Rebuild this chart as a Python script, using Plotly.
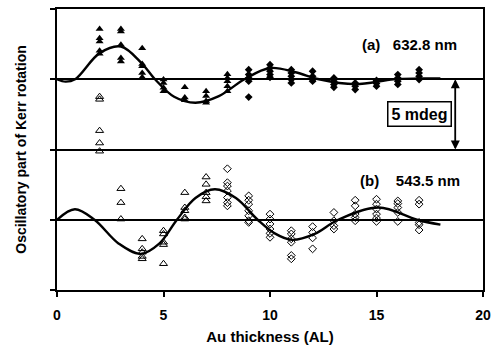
import plotly.graph_objects as go

# ---- data (mdeg, relative to each panel's zero line) ----
a_tri_x = [2]*5 + [3]*5 + [4]*5 + [5]*4 + [6]*3 + [7]*4 + [8]*5
a_tri_y = [3.58, 2.92, 2.69, 2.03, 1.82,
           3.58, 3.39, 2.45, 1.51, 1.27,
           2.21, 1.08, 0.92, 0.45, 0.14,
           -0.02, -0.26, -0.61, -0.85,
           -0.57, -1.30, -1.50,
           -0.85, -1.20, -1.55, -1.67,
           0.35, 0.09, -0.14, -0.49, -0.85]
a_dia_x = [9]*5 + [10]*5 + [11]*5 + [12]*4 + [13]*4 + [14]*3 + [15]*3 + [16]*4 + [17]*4
a_dia_y = [0.68, 0.33, 0.09, -0.14, -1.27,
           1.04, 0.80, 0.57, 0.33, 0.14,
           0.68, 0.45, 0.21, -0.02, -0.26,
           0.57, 0.21, -0.02, -0.14,
           0.09, -0.14, -0.37, -0.57,
           -0.26, -0.49, -0.73,
           -0.09, -0.30, -0.49,
           0.33, 0.09, -0.14, -0.37,
           0.68, 0.45, 0.21, -0.02]

b_tri_x = [2]*5 + [3]*3 + [4]*5 + [5]*5 + [6]*5 + [7]*5
b_tri_y = [8.76, 8.57, 6.34, 5.46, 4.88,
           2.21, 1.22, 0.05,
           -1.36, -2.07, -2.31, -2.61, -2.78,
           -0.78, -1.01, -1.60, -1.77, -3.13,
           1.93, 0.87, 0.64, 0.16, 0.05,
           3.04, 2.52, 1.93, 1.63, 1.34]
b_dia_x = [8]*7 + [9]*7 + [10]*6 + [11]*6 + [12]*4 + [13]*4 + [14]*5 + [15]*6 + [16]*5 + [17]*5
b_dia_y = [3.63, 2.64, 2.40, 2.05, 1.58, 1.22, 0.99,
           1.70, 1.39, 1.11, 0.64, 0.28, -0.07, -0.19,
           0.40, 0.05, -0.30, -0.66, -0.97, -1.25,
           -0.78, -1.01, -1.36, -1.60, -2.54, -2.78,
           -0.49, -0.90, -1.29, -2.07,
           0.52, -0.07, -0.42, -0.66,
           1.39, 0.99, 0.40, 0.16, -0.07,
           1.46, 1.11, 0.76, 0.40, 0.12, -0.12,
           1.34, 1.15, 0.87, 0.52, -0.12,
           1.39, 1.11, -0.19, -0.35, -0.73]

fit_a_x = [0, 0.4, 0.85, 2.0, 3.0, 4.0, 4.6, 5.5, 6.5, 7.6, 8.8, 10.0, 11.2, 12.3, 14.0, 15.8, 17.0, 18.0]
fit_a_y = [0, -0.17, 0, 1.86, 2.33, 1.1, 0, -1.25, -1.67, -1.2, 0, 0.8, 0.5, 0, -0.35, 0, 0.05, 0.05]
fit_b_x = [0, 0.84, 1.76, 2.9, 3.93, 4.8, 5.63, 6.5, 7.41, 8.4, 9.42, 10.2, 11.04, 12.1, 13.2, 15.1, 16.9, 18.0]
fit_b_y = [0, 0.75, 0, -1.7, -2.43, -1.7, 0, 1.55, 2.17, 1.55, 0, -0.95, -1.43, -1.0, 0, 0.87, 0, -0.35]

x_ticks = [0, 5, 10, 15, 20]
zero_a = 15
zero_b = 5
scale_bar = 5  # mdeg
label_a = "(a)   632.8 nm"
label_b = "(b)    543.5 nm"

FONT = "Liberation Sans, Arial, sans-serif"

fig = go.Figure()

def sh(vals, off):
    return [v + off for v in vals]

fig.add_trace(go.Scatter(x=fit_a_x, y=sh(fit_a_y, zero_a), mode="lines",
                         line=dict(color="black", width=2.4, shape="spline", smoothing=1.0)))
fig.add_trace(go.Scatter(x=fit_b_x, y=sh(fit_b_y, zero_b), mode="lines",
                         line=dict(color="black", width=2.4, shape="spline", smoothing=1.0)))
fig.add_trace(go.Scatter(x=a_tri_x, y=sh(a_tri_y, zero_a), mode="markers",
                         marker=dict(symbol="triangle-up", size=7, color="black")))
fig.add_trace(go.Scatter(x=a_dia_x, y=sh(a_dia_y, zero_a), mode="markers",
                         marker=dict(symbol="diamond", size=6, color="black")))
fig.add_trace(go.Scatter(x=b_tri_x, y=sh(b_tri_y, zero_b), mode="markers",
                         marker=dict(symbol="triangle-up-open", size=7, color="black",
                                     line=dict(width=1))))
fig.add_trace(go.Scatter(x=b_dia_x, y=sh(b_dia_y, zero_b), mode="markers",
                         marker=dict(symbol="diamond-open", size=6, color="black",
                                     line=dict(width=1))))

# scale bar arrow (double headed)
fig.add_annotation(x=18.7, y=zero_a, ax=18.7, ay=zero_a - scale_bar, xref="x", yref="y",
                   axref="x", ayref="y", showarrow=True, arrowhead=2, arrowsize=1.2,
                   arrowwidth=1.5, arrowcolor="black", text="")
fig.add_annotation(x=18.7, y=zero_a - scale_bar, ax=18.7, ay=zero_a, xref="x", yref="y",
                   axref="x", ayref="y", showarrow=True, arrowhead=2, arrowsize=1.2,
                   arrowwidth=1.5, arrowcolor="black", text="")
fig.add_annotation(x=18.56, y=zero_a - scale_bar / 2, xref="x", yref="y", showarrow=False,
                   text="<b>5 mdeg</b>", font=dict(family=FONT, size=16, color="black"),
                   bordercolor="black", borderwidth=1.5, borderpad=3, bgcolor="white",
                   xanchor="right")
fig.add_annotation(x=18.85, y=zero_a + 2.46, xref="x", yref="y", showarrow=False,
                   text="<b>" + label_a + "</b>", font=dict(family=FONT, size=15, color="black"),
                   xanchor="right")
fig.add_annotation(x=19.0, y=zero_b + 2.77, xref="x", yref="y", showarrow=False,
                   text="<b>" + label_b + "</b>", font=dict(family=FONT, size=15, color="black"),
                   xanchor="right")

fig.update_layout(
    width=498, height=350,
    margin=dict(l=57, r=10, t=7, b=60),
    paper_bgcolor="white", plot_bgcolor="white",
    showlegend=False,
    font=dict(family=FONT, color="black"),
)
fig.update_xaxes(range=[0, 20], tickvals=x_ticks, ticktext=["<b>%d</b>" % t for t in x_ticks],
                 ticks="outside", ticklen=5, tickwidth=1.5, tickcolor="black",
                 ticklabelstandoff=6,
                 showline=True, linecolor="black", linewidth=1.5, mirror=True,
                 showgrid=False, zeroline=False,
                 tickfont=dict(family=FONT, size=14, color="black"),
                 title=dict(text="<b>Au thickness (AL)</b>", standoff=10,
                            font=dict(family=FONT, size=15, color="black")))
fig.update_yaxes(range=[0, 20], tickvals=[0, 5, 10, 15, 20], showticklabels=False,
                 ticks="outside", ticklen=5, tickwidth=1.5, tickcolor="black",
                 showline=True, linecolor="black", linewidth=1.5, mirror=True,
                 showgrid=True, gridcolor="black", gridwidth=1.5, zeroline=False,
                 title=dict(text="<b>Oscillatory part of Kerr rotation</b>", standoff=20,
                            font=dict(family=FONT, size=14, color="black")))

fig.write_html("out.html")
